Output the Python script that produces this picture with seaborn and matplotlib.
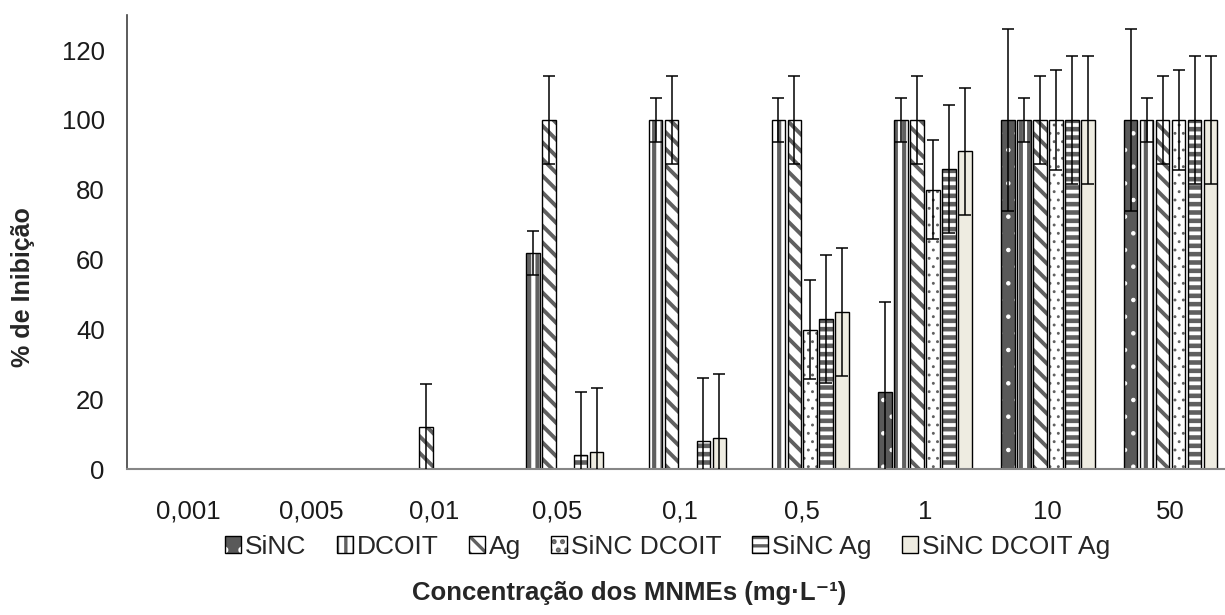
import numpy as np
import pandas as pd
import matplotlib
matplotlib.use('Agg')
import matplotlib.pyplot as plt
from matplotlib.colors import to_rgba
import seaborn as sns

# concentrations (x groups) and series
concentracoes = ['0,001', '0,005', '0,01', '0,05', '0,1', '0,5', '1', '10', '50']
series = ['SiNC', 'DCOIT', 'Ag', 'SiNC DCOIT', 'SiNC Ag', 'SiNC DCOIT Ag']

# % inhibition per series (one value per concentration)
sinc = [0, 0, 0, 0, 0, 0, 22, 100, 100]
dcoit = [0, 0, 0, 62, 100, 100, 100, 100, 100]
ag = [0, 0, 12, 100, 100, 100, 100, 100, 100]
sinc_dcoit = [0, 0, 0, 0, 0, 40, 80, 100, 100]
sinc_ag = [0, 0, 0, 4, 8, 43, 86, 100, 100]
sinc_dcoit_ag = [0, 0, 0, 5, 9, 45, 91, 100, 100]

# standard deviations
sinc_err = [0, 0, 0, 0, 0, 0, 26, 26, 26]
dcoit_err = [0, 0, 0, 6.3, 6.3, 6.3, 6.3, 6.3, 6.3]
ag_err = [0, 0, 12.5, 12.7, 12.7, 12.7, 12.7, 12.7, 12.7]
sinc_dcoit_err = [0, 0, 0, 0, 0, 14.2, 14.2, 14.2, 14.2]
sinc_ag_err = [0, 0, 0, 18.2, 18.2, 18.4, 18.3, 18.3, 18.3]
sinc_dcoit_ag_err = [0, 0, 0, 18.2, 18.3, 18.4, 18.3, 18.3, 18.3]

valores = [sinc, dcoit, ag, sinc_dcoit, sinc_ag, sinc_dcoit_ag]
erros = [sinc_err, dcoit_err, ag_err, sinc_dcoit_err, sinc_ag_err, sinc_dcoit_ag_err]

df = pd.DataFrame({
    'conc': concentracoes * len(series),
    'serie': np.repeat(series, len(concentracoes)),
    'valor': np.concatenate(valores),
})

# fill, hatch pattern, hatch colour and hatch line width per series
cores = ['#595959', 'white', 'white', 'white', 'white', '#EEECE1']
hatches = ['.', '||', '\\\\', '..', '--', '']
hatch_cores = ['white', '#606060', '#606060', '#606060', '#606060', '#606060']
hatch_lw = [0.8, 3.0, 2.8, 0.9, 3.3, 1.0]

sns.set_style('white')
plt.rcParams['font.family'] = ['Liberation Sans', 'DejaVu Sans']
plt.rcParams['hatch.linewidth'] = 2.4

fig = plt.figure(figsize=(12.25, 6.15), dpi=100)
ax = fig.add_axes([127 / 1225, 145.7 / 615, 1105 / 1225, 454.1 / 615])

sns.barplot(data=df, x='conc', y='valor', hue='serie', order=concentracoes,
            hue_order=series, palette=cores, width=0.78, gap=0.15,
            edgecolor='black', linewidth=1.0, errorbar=None, saturation=1,
            legend=False, ax=ax)

barras = list(ax.containers)
for i, cont in enumerate(barras):
    for p in cont.patches:
        p.set_facecolor(cores[i])
        p.set_edgecolor('black')
        p.set_hatch(hatches[i])
        # hatch colour / width independent of the black outline
        if hasattr(p, 'set_hatchcolor'):
            p.set_hatchcolor(hatch_cores[i])
        p._hatch_color = to_rgba(hatch_cores[i])
        if hasattr(p, 'set_hatch_linewidth'):
            p.set_hatch_linewidth(hatch_lw[i])
        p._hatch_linewidth = hatch_lw[i]
        p.stale = True
    xs = np.array([p.get_x() + p.get_width() / 2 for p in cont.patches])
    ys = np.array([p.get_height() for p in cont.patches])
    err = np.array(erros[i])
    m = err > 0
    ax.errorbar(xs[m], ys[m], yerr=err[m], fmt='none', ecolor='black',
                elinewidth=1.1, capsize=4, capthick=1.1, zorder=5)

ax.set_ylim(0, 130)
ax.set_yticks(range(0, 121, 20))
ax.set_xlim(-0.5, len(concentracoes) - 0.5)
ax.set_xlabel('')
ax.set_ylabel('')
ax.tick_params(axis='both', length=0, labelsize=18.5, colors='#1a1a1a')
ax.tick_params(axis='x', pad=22)
ax.tick_params(axis='y', pad=16)
for s in ['top', 'right']:
    ax.spines[s].set_visible(False)
ax.spines['left'].set_color('#404040')
ax.spines['left'].set_linewidth(1.2)
ax.spines['bottom'].set_color('#868686')
ax.spines['bottom'].set_linewidth(1.5)

handles = [cont.patches[-1] for cont in barras]
fig.legend(handles, series, loc='center', bbox_to_anchor=(0.545, 0.1106),
           ncol=6, frameon=False, fontsize=19, handlelength=0.6,
           handleheight=0.6, handletextpad=0.15, columnspacing=1.15)

fig.text(0.0188, 0.5325, '% de Inibição', rotation=90, ha='center',
         va='center', fontsize=18, fontweight='bold')
fig.text(0.5135, 0.0358, 'Concentração dos MNMEs (mg·L⁻¹)',
         ha='center', va='center', fontsize=18.5, fontweight='bold')

fig.savefig('out.png', dpi=100)
